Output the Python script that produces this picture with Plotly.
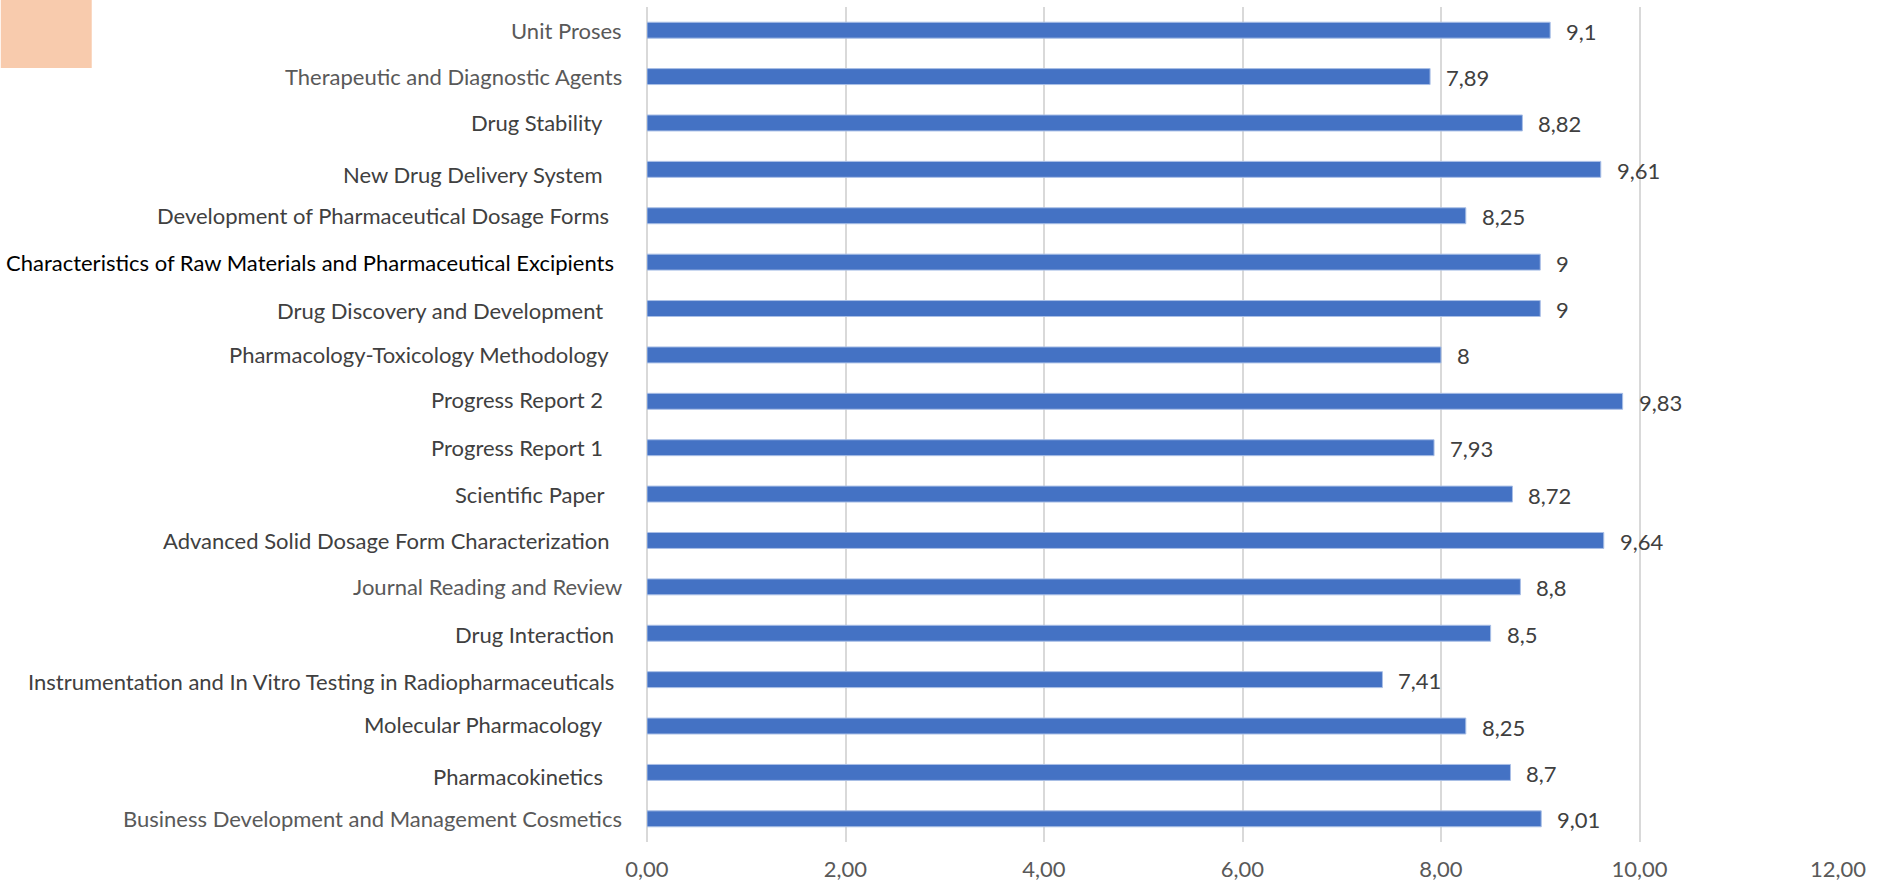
import plotly.graph_objects as go

categories = [
    "Unit Proses",
    "Therapeutic and Diagnostic Agents",
    "Drug Stability",
    "New Drug Delivery System",
    "Development of Pharmaceutical Dosage Forms",
    "Characteristics of Raw Materials and Pharmaceutical Excipients",
    "Drug Discovery and Development",
    "Pharmacology-Toxicology Methodology",
    "Progress Report 2",
    "Progress Report 1",
    "Scientific Paper",
    "Advanced Solid Dosage Form Characterization",
    "Journal Reading and Review",
    "Drug Interaction",
    "Instrumentation and In Vitro Testing in Radiopharmaceuticals",
    "Molecular Pharmacology",
    "Pharmacokinetics",
    "Business Development and Management Cosmetics",
]
values = [9.1, 7.89, 8.82, 9.61, 8.25, 9, 9, 8, 9.83, 7.93, 8.72, 9.64, 8.8, 8.5, 7.41, 8.25, 8.7, 9.01]
x_ticks = [0, 2, 4, 6, 8, 10, 12]
x_tick_text = ["0,00", "2,00", "4,00", "6,00", "8,00", "10,00", "12,00"]

# label styling (colour and pixel nudges of the category labels)
label_colors = ["#595959", "#595959", "#404040", "#404040", "#404040", "#000000",
                "#404040", "#404040", "#404040", "#404040", "#404040", "#404040",
                "#595959", "#404040", "#404040", "#404040", "#404040", "#595959"]
label_dx = [0, 0, 19, 19, 13, 8, 19, 13, 19, 19, 18, 12, 0, 8, 8, 19, 19, 0]
label_dy = [0, 0, 0, -5, 0, 0, -2, 0, 2, 0, 0, 0, 0, -1, -2, 2, -4, 0]

FONT = "Lato, Calibri, sans-serif"
FS = 22

fig = go.Figure()
fig.add_trace(go.Bar(
    x=values, y=categories, orientation="h",
    marker=dict(color="#4472C4", line=dict(color="#A9BFE6", width=1)),
    hoverinfo="x+y",
))

annotations = []
for cat, v, col, dx, dy in zip(categories, values, label_colors, label_dx, label_dy):
    annotations.append(dict(
        x=0, xref="paper", y=cat, yref="y", text=cat, showarrow=False,
        xanchor="right", yanchor="middle", xshift=-(23.5 + dx), yshift=dy,
        font=dict(family=FONT, size=FS, color=col),
    ))
    annotations.append(dict(
        x=v, xref="x", y=cat, yref="y", text=f"{v:g}".replace(".", ","),
        showarrow=False, xanchor="left", yanchor="middle", xshift=14, yshift=-1,
        font=dict(family=FONT, size=FS, color="#404040"),
    ))

L, R, T, B = 646.5, 42, 7, 44
W, H = 1880, 886
pw, ph = W - L - R, H - T - B

fig.update_layout(
    width=W, height=H,
    margin=dict(l=L, r=R, t=T, b=B, pad=0, autoexpand=False),
    paper_bgcolor="white", plot_bgcolor="white",
    showlegend=False,
    bargap=0.656,
    annotations=annotations,
    shapes=[dict(
        type="rect", xref="paper", yref="paper",
        x0=(0 - L) / pw, x1=(91 - L) / pw,
        y0=(H - B - 68) / ph, y1=(H - B - 0) / ph,
        fillcolor="#F8CBAD", line=dict(width=0), layer="above",
    )],
    xaxis=dict(
        range=[0, 12], tickvals=x_ticks, ticktext=x_tick_text,
        showgrid=True, gridcolor="#D9D9D9", gridwidth=1.5,
        zeroline=True, zerolinecolor="#D9D9D9", zerolinewidth=1.5,
        showline=False,
        ticks="outside", ticklen=8, tickcolor="rgba(0,0,0,0)",
        tickfont=dict(family=FONT, size=FS, color="#595959"),
        fixedrange=True,
    ),
    yaxis=dict(
        autorange="reversed", showticklabels=False, showgrid=False,
        zeroline=False, showline=False, ticks="", fixedrange=True,
    ),
)

fig.write_html(
    "out.html",
    config={"displayModeBar": False},
    post_script="document.body.style.margin='0';document.body.style.overflow='hidden';",
)
